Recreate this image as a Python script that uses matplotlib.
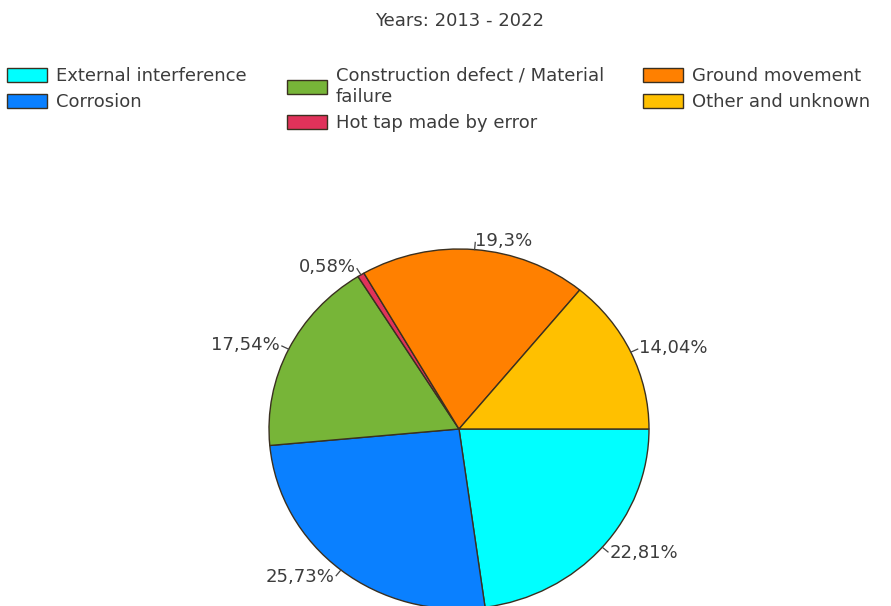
import matplotlib.pyplot as plt
import numpy as np

# data
causes = ['External interference', 'Corrosion', 'Construction defect / Material\nfailure',
          'Hot tap made by error', 'Ground movement', 'Other and unknown']
shares = [22.81, 25.73, 17.54, 0.58, 19.3, 14.04]
share_labels = ['22,81%', '25,73%', '17,54%', '0,58%', '19,3%', '14,04%']
colors = ['#00FFFF', '#0A80FF', '#77B538', '#E0325A', '#FF8000', '#FFC000']
title = 'Years: 2013 - 2022'

TXT = '#3c3c3c'
FS = 13
plt.rcParams['font.family'] = ['DejaVu Sans']

W, H = 891, 606
fig = plt.figure(figsize=(W / 100, H / 100), dpi=100)

# pie area in pixels: center (459, 429), rx 190, ry 180
cx, cy, rx, ry = 459, 429, 190, 180
ax = fig.add_axes([(cx - rx) / W, (H - cy - ry) / H, 2 * rx / W, 2 * ry / H])
wedges, _ = ax.pie(shares, colors=colors, startangle=0, counterclock=False,
                   wedgeprops=dict(edgecolor='#3a3020', linewidth=1.0))
ax.set_aspect('auto')
ax.set_xlim(-1, 1)
ax.set_ylim(-1, 1)

for w, lab in zip(wedges, share_labels):
    ang = np.deg2rad((w.theta1 + w.theta2) / 2)
    x, y = np.cos(ang), np.sin(ang)
    ax.plot([x, x * 1.04], [y, y * 1.04], color='#444444', lw=0.9, clip_on=False)
    ax.text(x * 1.05, y * 1.05, lab, ha='left' if x > 0 else 'right', va='center',
            fontsize=FS, color=TXT, clip_on=False)

fig.text(460 / W, 1 - 21 / H, title, ha='center', va='center', fontsize=FS, color=TXT)

# legend, three columns placed separately
leg_kw = dict(loc='upper left', frameon=False, borderpad=0, borderaxespad=0,
              fontsize=FS, handlelength=2.2, handleheight=0.85, handletextpad=0.5,
              labelspacing=0.46, labelcolor=TXT)
for idx, xpx in [((0, 1), 7), ((2, 3), 287), ((4, 5), 643)]:
    fig.legend([wedges[i] for i in idx], [causes[i] for i in idx],
               bbox_to_anchor=(xpx / W, 1 - 67 / H), **leg_kw)

fig.savefig('out.png', dpi=100)
